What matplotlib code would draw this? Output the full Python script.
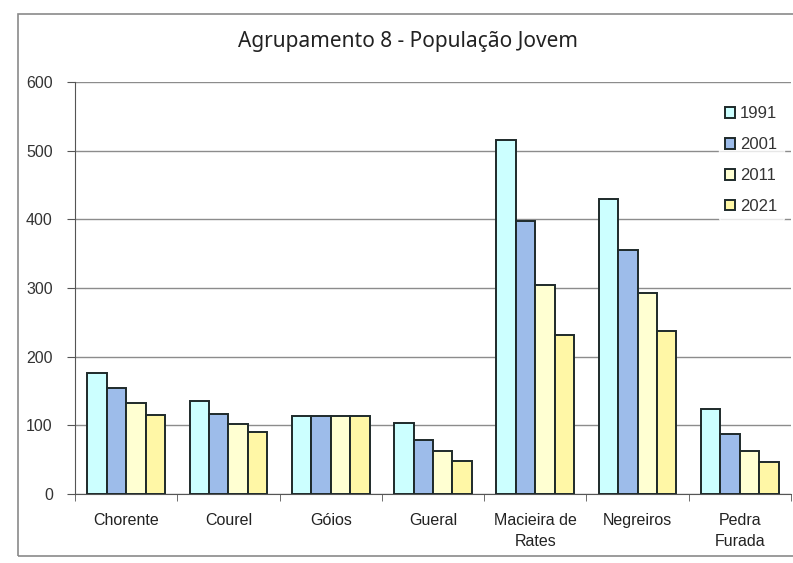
import matplotlib
matplotlib.use("Agg")
import matplotlib.pyplot as plt
from matplotlib.patches import Rectangle
import numpy as np

categories = ["Chorente", "Courel", "Góios", "Gueral", "Macieira de\nRates", "Negreiros", "Pedra\nFurada"]
years = ["1991", "2001", "2011", "2021"]
v1991 = [176, 135, 113, 103, 515, 430, 124]
v2001 = [154, 117, 113, 78, 398, 356, 88]
v2011 = [133, 102, 114, 62, 304, 292, 62]
v2021 = [115, 91, 114, 48, 232, 238, 47]
series = [v1991, v2001, v2011, v2021]
colors = ["#CCFFFF", "#9DBCEA", "#FFFFD2", "#FFF7A6"]
title = "Agrupamento 8 - População Jovem"

plt.rcParams['font.family'] = ['Liberation Sans', 'DejaVu Sans']

fig = plt.figure(figsize=(7.93, 5.63), dpi=100)
fig.patch.set_facecolor("white")
# chart area border
fig.patches.append(Rectangle((18/793, 1-556/563), (810-18)/793, (556-14)/563,
                             transform=fig.transFigure, fill=False,
                             edgecolor="#8a8a8a", linewidth=1.2))

ax = fig.add_axes([75/793, 1-494/563, 716/793, (494-82)/563])
x = np.arange(len(categories))
w = 0.19
for i, (vals, c, lab) in enumerate(zip(series, colors, years)):
    ax.bar(x + (i - 1.5) * w, vals, width=w, color=c, edgecolor="#1e2a2a",
           linewidth=1.4, label=lab, zorder=3)

ax.set_xlim(-0.5, len(categories) - 0.5)
ax.set_ylim(0, 600)
ax.set_yticks(range(0, 601, 100))
ax.yaxis.grid(True, color="#8c8c8c", linewidth=1.0, zorder=0)
ax.set_axisbelow(True)
for s in ["top", "right"]:
    ax.spines[s].set_visible(False)
ax.spines["left"].set_color("#555555")
ax.spines["bottom"].set_color("#555555")
ax.set_xticks(x)
ax.set_xticklabels(categories, fontsize=11.5, color="#222222", linespacing=1.5)
ax.set_xticks(np.arange(len(categories) + 1) - 0.5, minor=True)
ax.tick_params(axis="x", which="major", length=0, pad=14)
ax.tick_params(axis="x", which="minor", length=5, color="#555555")
ax.tick_params(axis="y", length=6, color="#555555", labelsize=11.5, labelcolor="#333333", pad=10)

leg = ax.legend(loc="upper right", bbox_to_anchor=(0.995, 0.965), frameon=True,
                fontsize=12, handlelength=0.6, handleheight=0.6,
                handletextpad=0.3, labelspacing=0.95, borderaxespad=0.2,
                borderpad=0.4)
leg.get_frame().set_facecolor("white")
leg.get_frame().set_edgecolor("white")
for t in leg.get_texts():
    t.set_color("#333333")

fig.text(408/793, 1-42/563, title, ha="center", va="center", fontsize=15,
         family=["Noto Sans", "DejaVu Sans"], color="#222222")

fig.savefig("out.png", dpi=100)
